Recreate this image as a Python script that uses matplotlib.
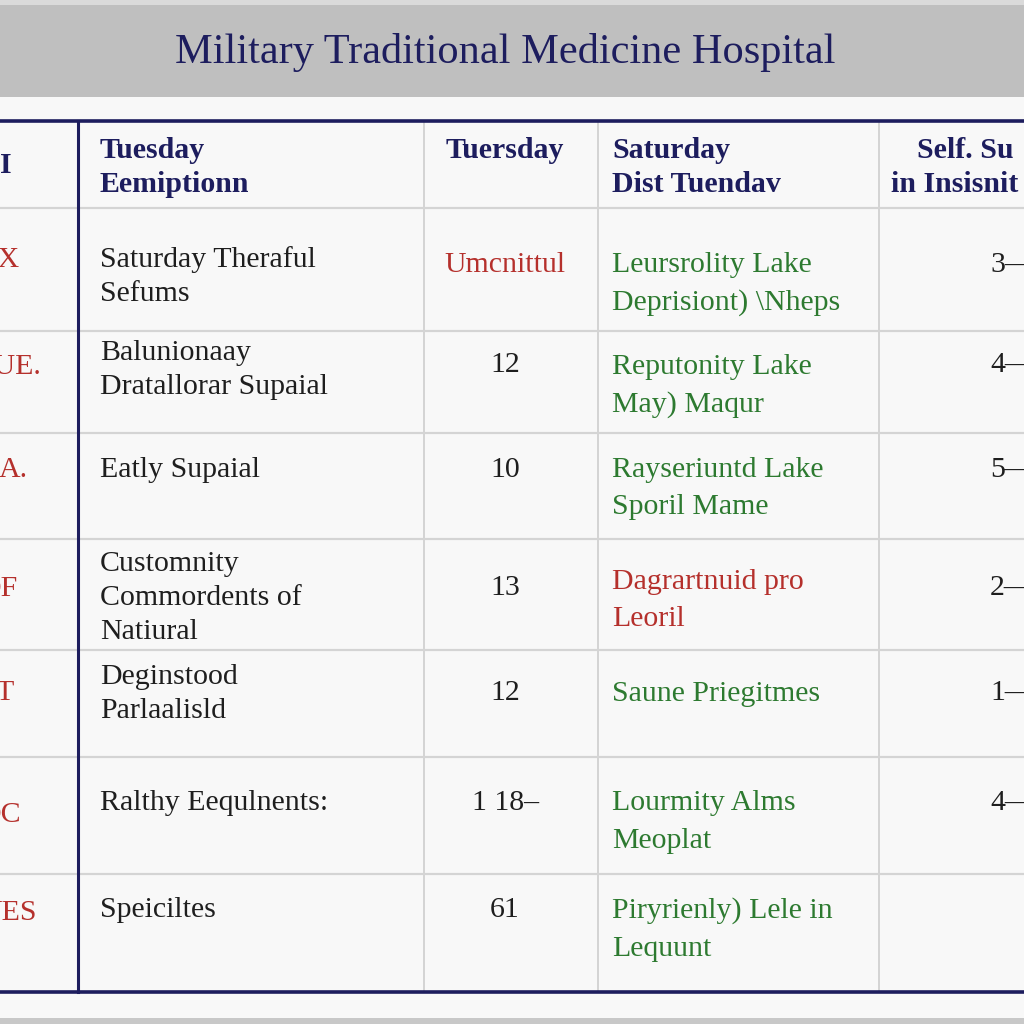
import matplotlib
matplotlib.use("Agg")
import matplotlib.pyplot as plt

# ---- table content ----
title = "Military Traditional Medicine Hospital"

col0 = ["I", "OX", "QUE.", "A.", "OF", "T", "OC", "JES"]
col1 = ["Tuesday\nEemiptionn", "Saturday Theraful\nSefums", "Balunionaay\nDratallorar Supaial",
        "Eatly Supaial", "Customnity\nCommordents of\nNatiural", "Deginstood\nParlaalisld",
        "Ralthy Eequlnents:", "Speiciltes"]
col2 = ["Tuersday", "Umcnittul", "12", "10", "13", "12", "1 18\u2013", "61"]
col3 = ["Saturday\nDist Tuendav", "Leursrolity Lake\nDeprisiont) \\Nheps", "Reputonity Lake\nMay) Maqur",
        "Rayseriuntd Lake\nSporil Mame", "Dagrartnuid pro\nLeoril", "Saune Priegitmes",
        "Lourmity Alms\nMeoplat", "Piryrienly) Lele in\nLequunt"]
col4 = ["Self. Su\nin Insisnit", "3\u2014", "4\u2014", "5\u2014", "2\u2014", "1\u2014", "4\u2014", ""]

# colour key per cell: h = header navy, k = black, r = red, g = green
col2_tone = ["h", "r", "k", "k", "k", "k", "k", "k"]
col3_tone = ["h", "g", "g", "g", "r", "g", "g", "g"]

# ---- layout (pixels, origin top-left) ----
row_edges = [121, 208, 331, 433, 539, 650, 757, 874, 992]
col_edges = [78, 424, 598, 879]
y0 = [163, 257, 363, 467, 586, 690, 812, 910]
y1 = [148, 257, 350, 467, 561, 674, 800, 907]
y2 = [148, 262, 362, 467, 585, 690, 800, 907]
y3 = [148, 262, 364, 467, 579, 691, 800, 908]
y4 = [148, 262, 362, 467, 585, 690, 800, 907]
col0_end = [12, 20, 42, 28, 18, 14, 21, 37]

NAVY = "#1d1d5e"
RED = "#b5302c"
GREEN = "#2d7a30"
BLACK = "#1e1e1e"
GRID = "#d4d4d4"
tone = {"h": NAVY, "k": BLACK, "r": RED, "g": GREEN}

plt.rcParams["font.family"] = ["Liberation Serif", "DejaVu Serif"]
FS = 21.5
FS_HDR = 21.5

fig = plt.figure(figsize=(10.24, 10.24), dpi=100, facecolor="#f8f8f8")
ax = fig.add_axes([0, 0, 1, 1])
ax.set_xlim(0, 1024)
ax.set_ylim(1024, 0)
ax.axis("off")

# title band
ax.axhspan(0, 5, color="#dadada", lw=0)
ax.axhspan(5, 97, color="#bfbfbf", lw=0)
ax.axhspan(1018, 1024, color="#c8c8c8", lw=0)
ax.text(505, 52, title, ha="center", va="center", fontsize=30.5, color=NAVY)

# grid
for y in row_edges[1:-1]:
    ax.plot([0, 1024], [y, y], color=GRID, lw=1.6, zorder=1)
for x in col_edges[1:]:
    ax.plot([x, x], [row_edges[0], row_edges[-1]], color=GRID, lw=1.4, zorder=1)
ax.plot([0, 1024], [row_edges[0], row_edges[0]], color=NAVY, lw=2.6, zorder=2)
ax.plot([0, 1024], [row_edges[-1], row_edges[-1]], color=NAVY, lw=2.6, zorder=2)
ax.plot([col_edges[0], col_edges[0]], [row_edges[0], row_edges[-1]], color=NAVY, lw=2.2, zorder=2)


def put(x, y, s, color, ha="left", step=34, hdr=False):
    for i, line in enumerate(s.split("\n")):
        ax.text(x, y + i * step + 10, line, ha=ha, va="baseline",
                fontsize=FS_HDR if hdr else FS, color=color,
                fontweight="bold" if hdr else "normal", clip_on=True)


for r in range(len(col0)):
    hdr = r == 0
    put(col0_end[r], y0[r], col0[r], NAVY if hdr else RED, ha="right", hdr=hdr)
    put(100, y1[r], col1[r], NAVY if hdr else BLACK, hdr=hdr)
    put(505, y2[r], col2[r], tone[col2_tone[r]], ha="center", hdr=hdr)
    put(612, y3[r], col3[r], tone[col3_tone[r]], step=34 if hdr else 37.5, hdr=hdr)
    if hdr:
        put(917, y4[r], col4[r].split("\n")[0], NAVY, hdr=True)
        put(891, y4[r] + 34, col4[r].split("\n")[1], NAVY, hdr=True)
    else:
        put(990, y4[r], col4[r], BLACK)

fig.savefig("out.png", dpi=100, facecolor=fig.get_facecolor())
